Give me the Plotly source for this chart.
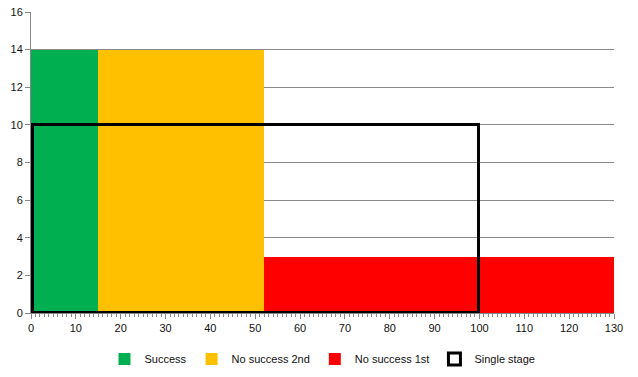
import plotly.graph_objects as go

names = ["Success", "No success 2nd", "No success 1st", "Single stage"]
x_start = [0, 15, 52, 0.4]
x_end = [15, 52, 130, 100]
heights = [14, 14, 3, 10]
fills = ["#00B050", "#FFC000", "#FF0000", "rgba(0,0,0,0)"]

fig = go.Figure()
for i, n in enumerate(names):
    outline = n == "Single stage"
    fig.add_trace(go.Bar(
        x=[(x_start[i] + x_end[i]) / 2],
        y=[heights[i]],
        width=[x_end[i] - x_start[i]],
        name=n,
        marker=dict(color=fills[i],
                    line=dict(color="black" if outline else fills[i], width=3 if outline else 0)),
        hoverinfo="name",
    ))

fig.update_layout(
    width=638, height=377,
    barmode="overlay",
    bargap=0,
    plot_bgcolor="white", paper_bgcolor="white",
    margin=dict(l=31, r=24, t=12, b=64, autoexpand=False),
    font=dict(family="Liberation Sans, Arial, sans-serif", size=11, color="#111"),
    legend=dict(orientation="h", x=0.5, xanchor="center", y=-0.105, yanchor="top",
                font=dict(size=11), itemwidth=30, traceorder="normal", tracegroupgap=0),
    xaxis=dict(range=[0, 130], dtick=10, showgrid=False, showline=True, linecolor="#888",
               ticks="outside", ticklen=5, tickcolor="#888", automargin=False,
               minor=dict(dtick=1, ticks="outside", ticklen=3, tickcolor="#888"),
               zeroline=False),
    yaxis=dict(range=[0, 16], dtick=2, showgrid=True, gridcolor="#8a8a8a", gridwidth=1,
               showline=True, linecolor="#888", ticks="outside", ticklen=5, tickcolor="#888",
               zeroline=False, automargin=False),
)
fig.write_html("out.html", config={"displayModeBar": False},
               post_script="document.body.style.margin='0';")
